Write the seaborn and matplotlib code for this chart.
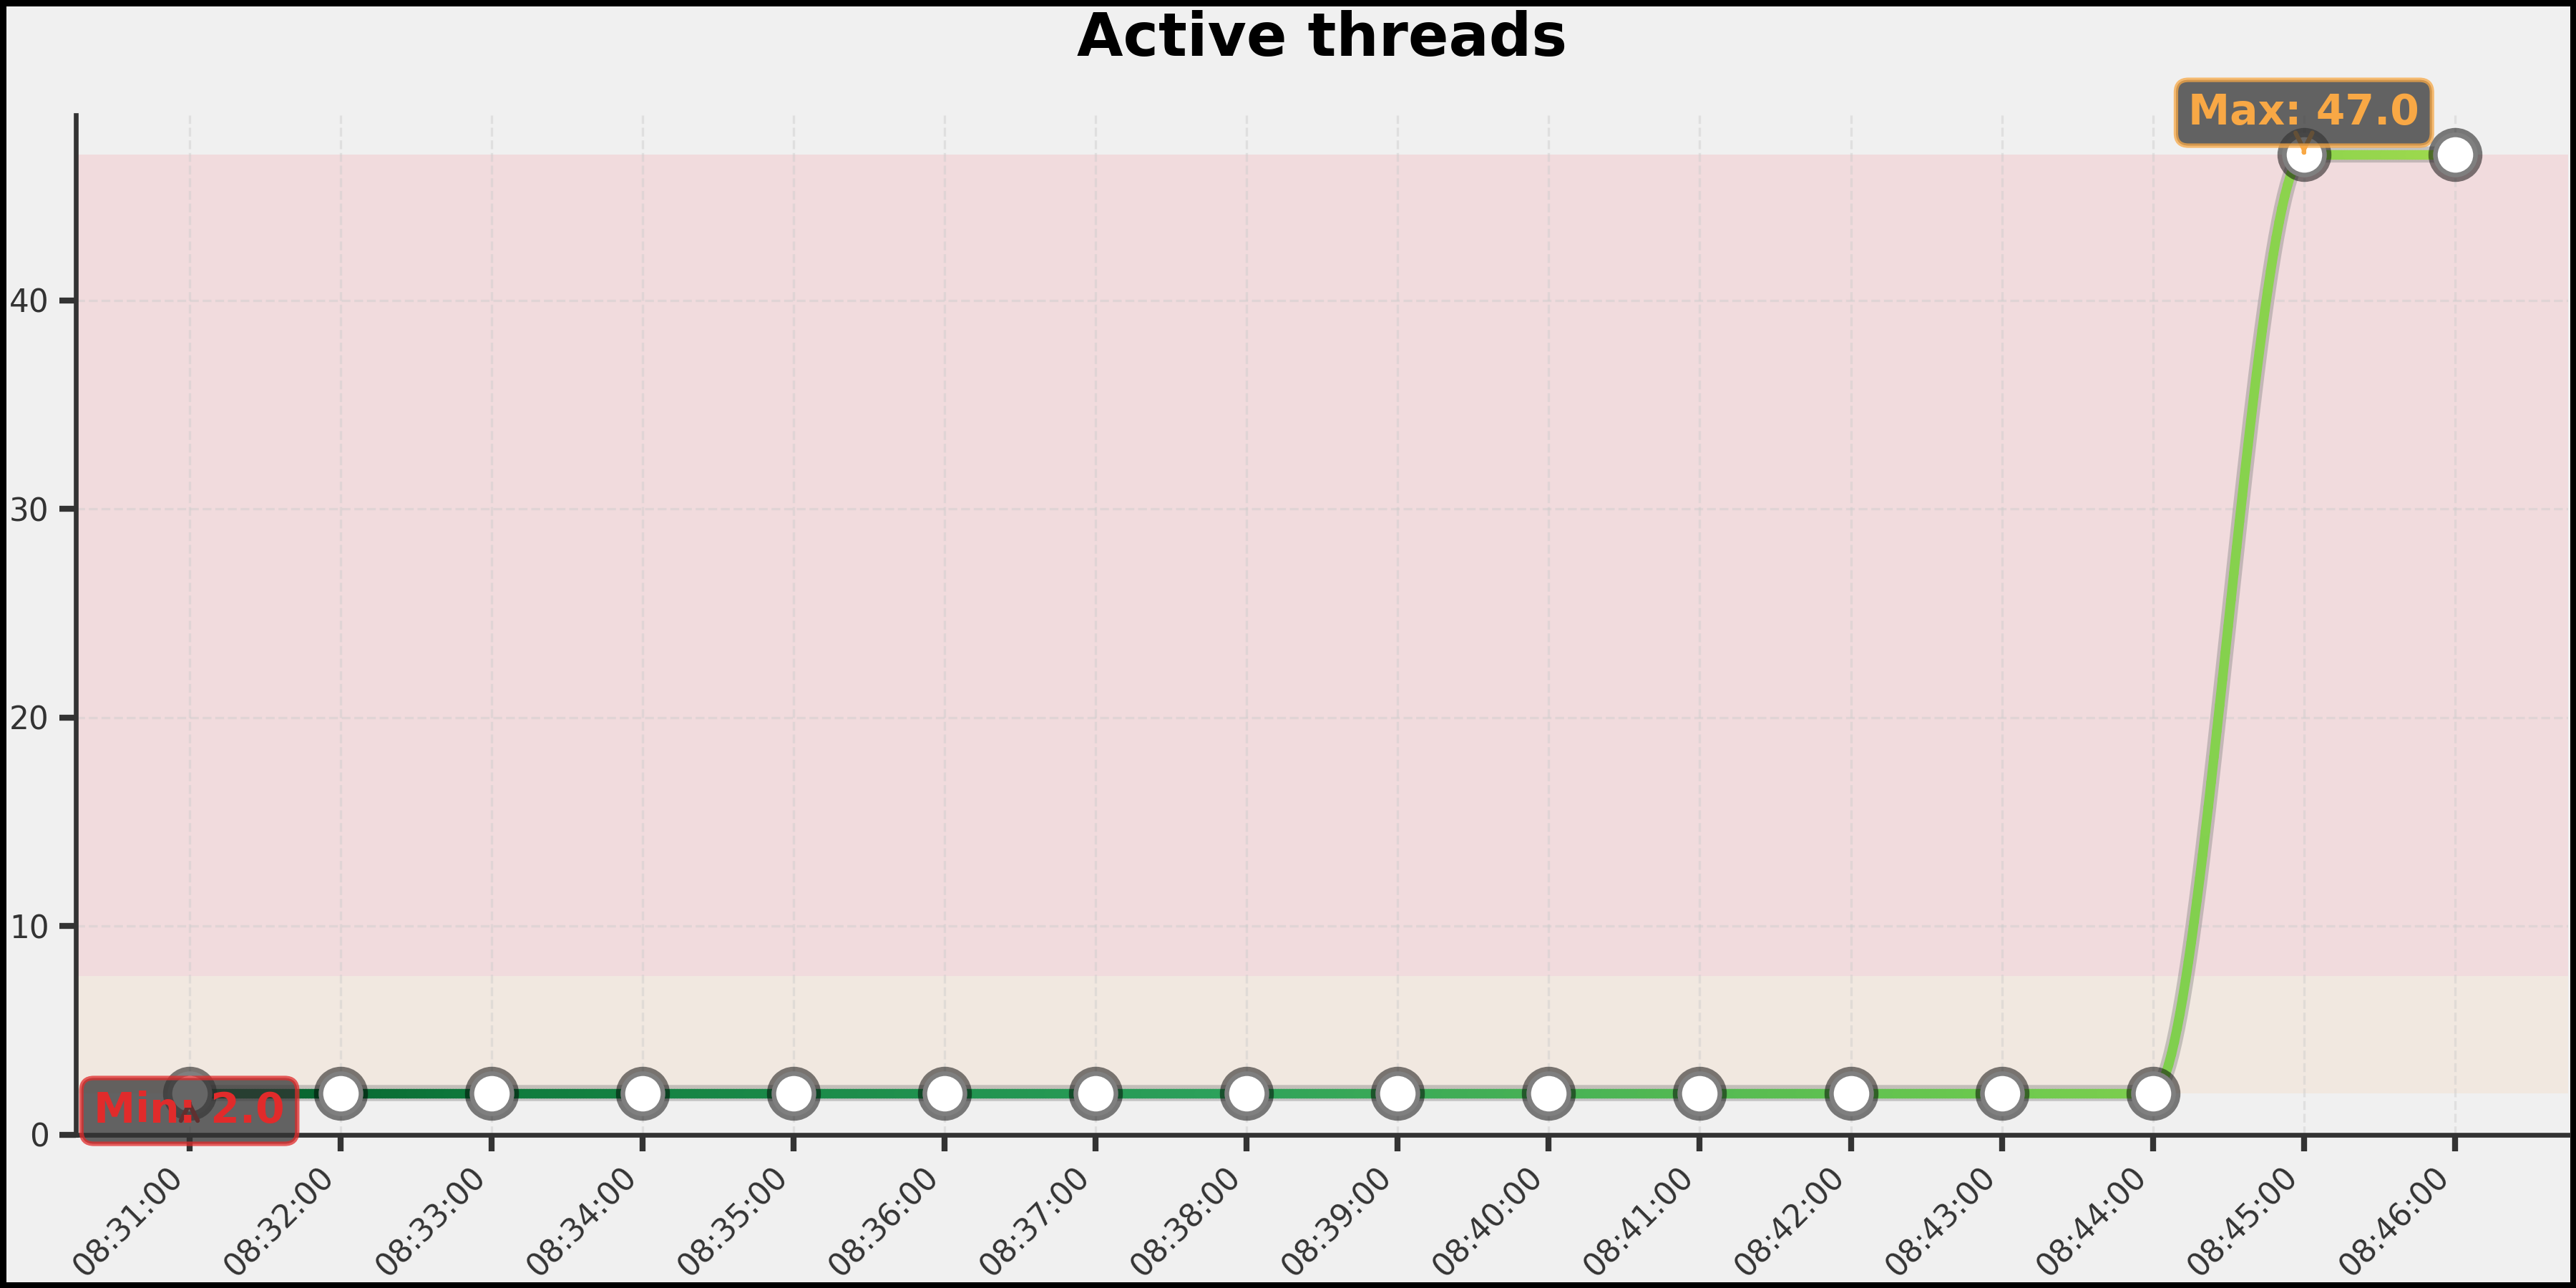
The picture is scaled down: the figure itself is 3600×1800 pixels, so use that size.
import numpy as np
import pandas as pd
import matplotlib
matplotlib.use('Agg')
import matplotlib.pyplot as plt
import matplotlib.dates as mdates
import seaborn as sns
from matplotlib.collections import LineCollection
from matplotlib.colors import LinearSegmentedColormap

# data
times = ['08:31:00', '08:32:00', '08:33:00', '08:34:00', '08:35:00', '08:36:00',
         '08:37:00', '08:38:00', '08:39:00', '08:40:00', '08:41:00', '08:42:00',
         '08:43:00', '08:44:00', '08:45:00', '08:46:00']
threads = [2, 2, 2, 2, 2, 2, 2, 2, 2, 2, 2, 2, 2, 2, 47, 47]

df = pd.DataFrame({'time': pd.to_datetime(['2024-01-01 ' + t for t in times]),
                   'threads': threads})


def pchip(x, y, xs):
    # monotone cubic curve through the points (only used for drawing the line)
    x = np.asarray(x, float)
    y = np.asarray(y, float)
    h = np.diff(x)
    d = np.diff(y) / h
    m = np.zeros_like(y)
    m[0], m[-1] = d[0], d[-1]
    for i in range(1, len(x) - 1):
        if d[i - 1] * d[i] > 0:
            w1 = 2 * h[i] + h[i - 1]
            w2 = h[i] + 2 * h[i - 1]
            m[i] = (w1 + w2) / (w1 / d[i - 1] + w2 / d[i])
    k = np.clip(np.searchsorted(x, xs) - 1, 0, len(h) - 1)
    t = (xs - x[k]) / h[k]
    h00 = 2 * t**3 - 3 * t**2 + 1
    h10 = t**3 - 2 * t**2 + t
    h01 = -2 * t**3 + 3 * t**2
    h11 = t**3 - t**2
    return h00 * y[k] + h10 * h[k] * m[k] + h01 * y[k + 1] + h11 * h[k] * m[k + 1]


sns.set_style('ticks')
plt.rcParams['font.family'] = ['DejaVu Sans']

fig, ax = plt.subplots(figsize=(12, 6), dpi=300)
fig.patch.set_facecolor('#f0f0f0')
fig.patch.set_edgecolor('black')
fig.patch.set_linewidth(4)
ax.set_facecolor('#f0f0f0')
fig.subplots_adjust(left=0.0295, right=0.997, bottom=0.119, top=0.9105)

lo = df['threads'].min()
hi = df['threads'].max()
avg = df['threads'].mean()

# bands: min..mean and mean..max
ax.axhspan(lo, avg, color='#ff9f40', alpha=0.09, lw=0, zorder=0)
ax.axhspan(avg, hi, color='#ff2a3a', alpha=0.1, lw=0, zorder=0)

# smooth gradient line with a soft shadow
xn = mdates.date2num(df['time'])
xs = np.linspace(xn[0], xn[-1], 800)
ys = pchip(xn, df['threads'], xs)
ax.plot(xs, ys, color='gray', alpha=0.4, lw=5.4, zorder=2, solid_capstyle='round')

greens = LinearSegmentedColormap.from_list(
    'grad', [(0.0, '#045a2a'), (0.13, '#0e7a3c'), (0.45, '#2ba05a'),
             (0.8, '#6cc94e'), (1.0, '#9ed94d')])
pts = np.column_stack([xs, ys]).reshape(-1, 1, 2)
segs = np.concatenate([pts[:-1], pts[1:]], axis=1)
lc = LineCollection(segs, cmap=greens, lw=3.2, zorder=3, capstyle='round')
lc.set_array(np.linspace(0, 1, len(segs)))
ax.add_collection(lc)

# markers
sns.scatterplot(data=df, x='time', y='threads', s=15**2, color='white',
                edgecolor='#00000080', linewidth=3.1, zorder=4, ax=ax, legend=False)

# min / max labels
imax = int(df['threads'].idxmax())
imin = int(df['threads'].idxmin())
ax.annotate(f'Max: {hi:.1f}', xy=(xn[imax], hi), xytext=(0, 14), textcoords='offset points',
            ha='center', va='center', fontsize=14, fontweight='bold', color='#f8a845',
            bbox=dict(boxstyle='round,pad=0.3', fc='#333333', ec='#f8a845', alpha=0.75, lw=1.5),
            arrowprops=dict(arrowstyle='->', color='#f8a845', lw=1.5), zorder=5)
ax.annotate(f'Min: {lo:.1f}', xy=(xn[imin], lo), xytext=(0, -6), textcoords='offset points',
            ha='center', va='center', fontsize=14, fontweight='bold', color='#e12b2b',
            bbox=dict(boxstyle='round,pad=0.3', fc='#333333', ec='#e12b2b', alpha=0.75, lw=1.5),
            arrowprops=dict(arrowstyle='->', color='#e12b2b', lw=1.5), zorder=5)

pad = 0.75 / 1440
ax.set_xlim(xn[0] - pad, xn[-1] + pad)
ax.set_ylim(0, hi * 1.04)
ax.xaxis.set_major_locator(mdates.MinuteLocator())
ax.xaxis.set_major_formatter(mdates.DateFormatter('%H:%M:%S'))
plt.setp(ax.get_xticklabels(), rotation=45, ha='right')

ax.set_xlabel('')
ax.set_ylabel('')
ax.set_title('Active threads', fontsize=20, fontweight='bold', pad=20, color='black')

ax.grid(True, ls='--', lw=0.8, color='#cccccc', alpha=0.45)
ax.set_axisbelow(True)
sns.despine(ax=ax)
for s in ['left', 'bottom']:
    ax.spines[s].set_linewidth(1.6)
    ax.spines[s].set_color('#333333')
ax.tick_params(length=5.5, width=2, color='#333333', labelsize=10.5, labelcolor='#333333')

fig.savefig('out.png', dpi=300, facecolor=fig.get_facecolor(), edgecolor=fig.get_edgecolor())
